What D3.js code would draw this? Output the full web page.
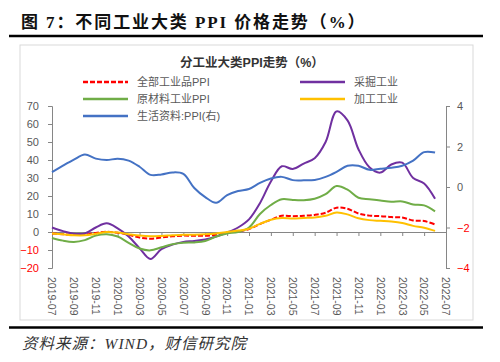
<!DOCTYPE html>
<html>
<head>
<meta charset="utf-8">
<script src="https://cdn.jsdelivr.net/npm/d3@7"></script>
<style>
  body { margin: 0; background: #fff; }
  svg { display: block; }
</style>
</head>
<body>
<svg id="chart" width="500" height="362"></svg>
<script>
const months = [
  "2019-07","2019-08","2019-09","2019-10","2019-11","2019-12",
  "2020-01","2020-02","2020-03","2020-04","2020-05","2020-06",
  "2020-07","2020-08","2020-09","2020-10","2020-11","2020-12",
  "2021-01","2021-02","2021-03","2021-04","2021-05","2021-06",
  "2021-07","2021-08","2021-09","2021-10","2021-11","2021-12",
  "2022-01","2022-02","2022-03","2022-04","2022-05","2022-06","2022-07"
];
const tickMonths = months.filter((m, i) => i % 2 === 0);

// 全部工业品PPI (left axis)
const ppiAll = [-0.8,-1.2,-1.6,-1.4,-0.5,0.1,-0.4,-1.5,-3.1,-3.7,-3.0,-2.4,-2.0,-2.1,-2.1,-1.5,-0.4,0.3,
  1.7,4.4,6.8,9.0,8.8,9.0,9.5,10.7,13.5,12.9,10.3,9.1,8.8,8.3,8.0,6.4,6.1,4.2];
// 采掘工业 (left axis)
const mining = [2.5,0.5,-1.0,-0.8,2.5,4.8,2.0,-2.5,-9.0,-15.0,-9.5,-7.0,-5.5,-5.0,-4.2,-2.5,-0.3,2.5,
  7.0,16.0,28.0,36.5,35.0,38.0,41.0,50.0,67.0,62.0,46.0,36.0,33.0,37.5,38.5,30.0,27.0,18.5];
// 原材料工业PPI (left axis)
const rawMat = [-3.3,-4.8,-5.5,-4.5,-2.0,-1.2,-2.5,-6.0,-9.2,-10.2,-8.5,-6.8,-6.0,-5.8,-5.0,-2.5,-0.8,0.0,
  2.5,10.0,15.0,18.2,17.8,17.7,18.5,21.0,25.5,23.5,19.0,18.2,17.5,16.8,17.0,15.3,14.8,11.5];
// 加工工业 (left axis)
const processing = [-0.8,-1.3,-1.8,-1.8,-1.0,0.0,-0.3,-1.2,-2.0,-2.4,-2.2,-1.8,-1.5,-1.5,-1.3,-0.8,0.0,0.8,
  1.8,4.5,6.8,7.8,7.5,7.8,8.0,9.0,10.8,9.8,7.6,6.6,6.2,5.8,5.0,3.4,2.4,0.6];
// 生活资料:PPI (right axis)
const consumer = [0.73,1.05,1.35,1.6,1.4,1.33,1.4,1.3,1.0,0.6,0.62,0.72,0.65,-0.05,-0.5,-0.78,-0.4,-0.2,
  -0.1,0.2,0.42,0.5,0.34,0.33,0.35,0.5,0.75,1.05,1.05,0.85,0.9,0.95,1.05,1.3,1.72,1.7];

const leftTicks = [-20,-10,0,10,20,30,40,50,60,70];
const rightTicks = [-4,-2,0,2,4];

const seriesNames = ["全部工业品PPI","采掘工业","原材料工业PPI","加工工业","生活资料:PPI(右)"];
const seriesColors = ["#FF0000","#7030A0","#70AD47","#FFC000","#4472C4"];

const svg = d3.select("#chart");
const cjk = "'Liberation Sans','Noto Sans CJK SC',sans-serif";
const txtColor = "#595959";
const axisColor = "#868686";

const x = d3.scalePoint().domain(months).range([52, 446]);
const yL = d3.scaleLinear().domain([-20, 70]).range([268, 106]);
const yR = d3.scaleLinear().domain([-4, 4]).range([268, 106]);

// page title and rules
svg.append("text")
  .attr("x", 21).attr("y", 28)
  .attr("font-family", "'Liberation Serif','Noto Sans CJK SC',serif")
  .attr("font-weight", "bold").attr("font-size", 17)
  .attr("letter-spacing", 1.9)
  .attr("fill", "#111")
  .text("图 7：不同工业大类 PPI 价格走势（%）");

svg.append("line").attr("x1", 9).attr("x2", 483).attr("y1", 36).attr("y2", 36)
  .attr("stroke", "#000").attr("stroke-width", 2.5);
svg.append("line").attr("x1", 9).attr("x2", 483).attr("y1", 327.5).attr("y2", 327.5)
  .attr("stroke", "#000").attr("stroke-width", 2.5);

svg.append("text")
  .attr("x", 22).attr("y", 349)
  .attr("font-family", "'Liberation Serif','Noto Sans CJK SC',serif")
  .attr("font-style", "italic").attr("font-size", 15.5)
  .attr("letter-spacing", 1)
  .attr("fill", "#333")
  .text("资料来源：WIND，财信研究院");

// chart frame
svg.append("rect").attr("x", 20).attr("y", 45).attr("width", 453).attr("height", 275)
  .attr("fill", "none").attr("stroke", "#d9d9d9").attr("stroke-width", 1);

svg.append("text")
  .attr("x", 252).attr("y", 67)
  .attr("text-anchor", "middle")
  .attr("font-family", cjk).attr("font-weight", "bold").attr("font-size", 12.5)
  .attr("fill", "#333")
  .text("分工业大类PPI走势（%）");

// legend
const legendPos = [[83, 82], [300, 82], [83, 99], [300, 99], [83, 116]];
seriesNames.forEach((name, i) => {
  const [lx, ly] = legendPos[i];
  svg.append("line")
    .attr("x1", lx).attr("x2", lx + 45).attr("y1", ly).attr("y2", ly)
    .attr("stroke", seriesColors[i]).attr("stroke-width", 2.5)
    .attr("stroke-dasharray", i === 0 ? "5,2" : null);
  svg.append("text")
    .attr("x", lx + 54).attr("y", ly + 4)
    .attr("font-family", cjk).attr("font-size", 11)
    .attr("fill", txtColor)
    .text(name);
});

// axes
function styleAxis(g) {
  g.select(".domain").attr("stroke", axisColor);
  g.selectAll(".tick line").attr("stroke", axisColor);
  g.selectAll(".tick text")
    .attr("font-family", "'Liberation Sans',sans-serif").attr("font-size", 11)
    .attr("fill", d => d < 0 ? "#FF0000" : txtColor);
}

svg.append("g")
  .attr("transform", "translate(52,0)")
  .call(d3.axisLeft(yL).tickValues(leftTicks).tickSize(4).tickPadding(9).tickFormat(d3.format("d")))
  .call(styleAxis);

svg.append("g")
  .attr("transform", "translate(446,0)")
  .call(d3.axisRight(yR).tickValues(rightTicks).tickSize(4).tickPadding(7).tickFormat(d3.format("d")))
  .call(styleAxis);

const xAxis = svg.append("g")
  .attr("transform", `translate(0,${yL(0)})`)
  .call(d3.axisBottom(x).tickValues(tickMonths).tickSize(4).tickSizeOuter(0).tickFormat(""));
xAxis.select(".domain").attr("stroke", axisColor);
xAxis.selectAll(".tick line").attr("stroke", axisColor);

svg.append("g").selectAll("text")
  .data(tickMonths)
  .join("text")
  .attr("transform", d => `translate(${x(d)},277) rotate(90)`)
  .attr("dy", "0.35em")
  .attr("font-family", "'Liberation Sans',sans-serif").attr("font-size", 10.5)
  .attr("fill", txtColor)
  .text(d => d);

// series
const leftSeries = [ppiAll, mining, rawMat, processing];
const lineL = d3.line().x((d, i) => x(months[i])).y(d => yL(d)).curve(d3.curveCatmullRom.alpha(0.5));
const lineR = d3.line().x((d, i) => x(months[i])).y(d => yR(d)).curve(d3.curveCatmullRom.alpha(0.5));

leftSeries.forEach((vals, i) => {
  svg.append("path")
    .datum(vals)
    .attr("d", lineL)
    .attr("fill", "none")
    .attr("stroke", seriesColors[i])
    .attr("stroke-width", 2)
    .attr("stroke-dasharray", i === 0 ? "5,2" : null);
});

svg.append("path")
  .datum(consumer)
  .attr("d", lineR)
  .attr("fill", "none")
  .attr("stroke", seriesColors[4])
  .attr("stroke-width", 2);
</script>
</body>
</html>
